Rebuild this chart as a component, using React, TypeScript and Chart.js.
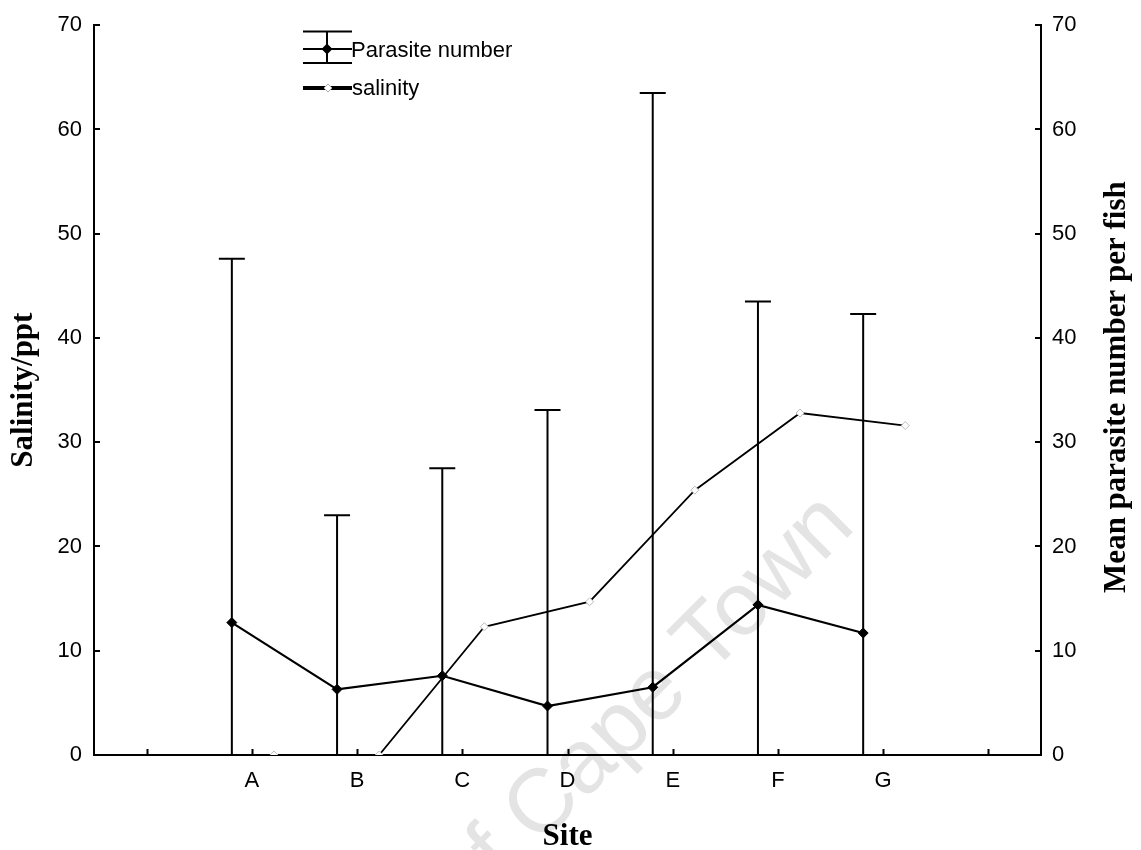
import React, { useEffect, useRef } from 'react';
import { Chart, registerables } from 'chart.js';

Chart.register(...registerables);

// ---- data ----
const sites = ['', 'A', 'B', 'C', 'D', 'E', 'F', 'G', ''];
const siteIndex = [1, 2, 3, 4, 5, 6, 7];
const parasiteMean = [12.7, 6.3, 7.6, 4.7, 6.5, 14.4, 11.7];
const parasiteUpper = [47.6, 23.0, 27.5, 33.1, 63.5, 43.5, 42.3];
const salinity = [0, 0, 12.3, 14.7, 25.4, 32.8, 31.6];
const yTickValues = [0, 10, 20, 30, 40, 50, 60, 70];
const xTickValues = [0, 1, 2, 3, 4, 5, 6, 7, 8];

// horizontal offsets of each series from its site tick (in category units)
const parasiteShift = -0.19;
const salinityShift = 0.21;

const SANS = "'Liberation Sans', Arial, sans-serif";
const SERIF = "'Liberation Serif', 'Times New Roman', serif";

const decorPlugin = {
  id: 'decor',
  beforeDraw(chart: any) {
    const { ctx } = chart;
    ctx.save();
    ctx.fillStyle = '#e4e4e4';
    ctx.font = `90px ${SANS}`;
    ctx.translate(857, 528);
    ctx.rotate(-Math.PI / 4);
    ctx.textAlign = 'right';
    ctx.textBaseline = 'alphabetic';
    ctx.fillText('University of Cape Town', 0, 0);
    ctx.restore();
  },
  beforeDatasetsDraw(chart: any) {
    const { ctx, scales } = chart;
    const xs = scales.x;
    const ys = scales.y1;
    ctx.save();
    ctx.strokeStyle = '#000';
    ctx.lineWidth = 2;
    parasiteUpper.forEach((up, i) => {
      const px = xs.getPixelForValue(siteIndex[i] + parasiteShift);
      const y0 = ys.getPixelForValue(0);
      const y1 = ys.getPixelForValue(up);
      ctx.beginPath();
      ctx.moveTo(px, y0);
      ctx.lineTo(px, y1);
      ctx.moveTo(px - 13, y1);
      ctx.lineTo(px + 13, y1);
      ctx.stroke();
    });
    ctx.restore();
  },
  afterDraw(chart: any) {
    const { ctx, scales, chartArea } = chart;
    const xs = scales.x;
    const yl = scales.y;
    const yr = scales.y1;
    ctx.save();
    ctx.strokeStyle = '#000';
    ctx.lineWidth = 2;
    // inward tick marks
    ctx.beginPath();
    xTickValues.forEach((v) => {
      const px = Math.round(xs.getPixelForValue(v)) + 0.5;
      ctx.moveTo(px, chartArea.bottom);
      ctx.lineTo(px, chartArea.bottom - 6);
    });
    yTickValues.forEach((v) => {
      if (v === 0) return;
      const py = Math.round(yl.getPixelForValue(v));
      ctx.moveTo(chartArea.left, py);
      ctx.lineTo(chartArea.left + 6, py);
      const pr = Math.round(yr.getPixelForValue(v));
      ctx.moveTo(chartArea.right, pr);
      ctx.lineTo(chartArea.right - 6, pr);
    });
    ctx.stroke();

    // axis titles
    ctx.fillStyle = '#000';
    ctx.font = `bold 31px ${SERIF}`;
    ctx.textAlign = 'center';
    ctx.textBaseline = 'middle';
    const midY = (chartArea.top + chartArea.bottom) / 2;
    ctx.save();
    ctx.translate(24, midY);
    ctx.rotate(-Math.PI / 2);
    ctx.fillText('Salinity/ppt', 0, 0);
    ctx.restore();
    ctx.save();
    ctx.translate(1117, midY - 3);
    ctx.rotate(-Math.PI / 2);
    ctx.fillText('Mean parasite number per fish', 0, 0);
    ctx.restore();
    ctx.textBaseline = 'alphabetic';
    ctx.fillText('Site', (chartArea.left + chartArea.right) / 2, 845);

    // legend
    ctx.lineWidth = 2;
    ctx.beginPath();
    ctx.moveTo(303, 31.5); ctx.lineTo(352, 31.5);
    ctx.moveTo(303, 63); ctx.lineTo(352, 63);
    ctx.moveTo(303, 49); ctx.lineTo(352, 49);
    ctx.moveTo(327, 31.5); ctx.lineTo(327, 63);
    ctx.stroke();
    ctx.fillStyle = '#000';
    ctx.beginPath();
    ctx.moveTo(327, 43.5); ctx.lineTo(332.5, 49); ctx.lineTo(327, 54.5); ctx.lineTo(321.5, 49);
    ctx.closePath();
    ctx.fill();
    ctx.lineWidth = 4;
    ctx.beginPath();
    ctx.moveTo(303, 88); ctx.lineTo(352, 88);
    ctx.stroke();
    ctx.fillStyle = '#fff';
    ctx.strokeStyle = '#aaa';
    ctx.lineWidth = 1;
    ctx.beginPath();
    ctx.moveTo(328, 84); ctx.lineTo(332, 88); ctx.lineTo(328, 92); ctx.lineTo(324, 88);
    ctx.closePath();
    ctx.fill();
    ctx.stroke();
    ctx.fillStyle = '#000';
    ctx.font = `22px ${SANS}`;
    ctx.textAlign = 'left';
    ctx.fillText('Parasite number', 351, 57);
    ctx.fillText('salinity', 352, 95);
    ctx.restore();
  },
};

export default function App() {
  const ref = useRef<HTMLCanvasElement | null>(null);
  useEffect(() => {
    if (!ref.current) return;
    const chart = new Chart(ref.current, {
      type: 'line',
      data: {
        datasets: [
          {
            label: 'Parasite number',
            data: parasiteMean.map((v, i) => ({ x: siteIndex[i] + parasiteShift, y: v })),
            yAxisID: 'y1',
            borderColor: '#000',
            borderWidth: 2.2,
            pointStyle: 'rectRot',
            pointRadius: 5,
            pointBackgroundColor: '#000',
            pointBorderColor: '#000',
            pointBorderWidth: 1,
            tension: 0,
          },
          {
            label: 'salinity',
            data: salinity.map((v, i) => ({ x: siteIndex[i] + salinityShift, y: v })),
            yAxisID: 'y',
            borderColor: '#000',
            borderWidth: 1.8,
            pointStyle: 'rectRot',
            pointRadius: 4,
            pointBackgroundColor: '#fff',
            pointBorderColor: '#bbb',
            pointBorderWidth: 1,
            tension: 0,
          },
        ],
      },
      options: {
        animation: false,
        responsive: false,
        events: [],
        layout: { padding: { top: 23, left: 0, right: 0, bottom: 0 } },
        plugins: { legend: { display: false }, tooltip: { enabled: false } },
        scales: {
          x: {
            type: 'linear',
            min: -0.5,
            max: 8.5,
            afterBuildTicks: (s: any) => {
              s.ticks = xTickValues.map((v) => ({ value: v }));
            },
            afterFit: (s: any) => {
              s.height = 95;
            },
            grid: { display: false, drawTicks: false },
            border: { display: true, color: '#000', width: 2 },
            ticks: {
              padding: 13,
              color: '#000',
              font: { family: SANS, size: 22 },
              maxRotation: 0,
              autoSkip: false,
              callback: (v: any) => sites[v] ?? '',
            },
          },
          y: {
            position: 'left',
            min: 0,
            max: 70,
            afterBuildTicks: (s: any) => {
              s.ticks = yTickValues.map((v) => ({ value: v }));
            },
            afterFit: (s: any) => {
              s.width = 94;
            },
            grid: { display: false, drawTicks: false },
            border: { display: true, color: '#000', width: 2 },
            ticks: { padding: 12, color: '#000', font: { family: SANS, size: 22 } },
          },
          y1: {
            position: 'right',
            min: 0,
            max: 70,
            afterBuildTicks: (s: any) => {
              s.ticks = yTickValues.map((v) => ({ value: v }));
            },
            afterFit: (s: any) => {
              s.width = 100;
            },
            grid: { display: false, drawTicks: false },
            border: { display: true, color: '#000', width: 2 },
            ticks: { padding: 11, color: '#000', font: { family: SANS, size: 22 } },
          },
        },
      },
      plugins: [decorPlugin],
    });
    return () => chart.destroy();
  }, []);
  return (
    <div style={{ position: 'absolute', left: 0, top: 0, width: 1141, height: 850, background: '#fff' }}>
      <canvas ref={ref} width={1141} height={850} style={{ display: 'block' }} />
    </div>
  );
}
